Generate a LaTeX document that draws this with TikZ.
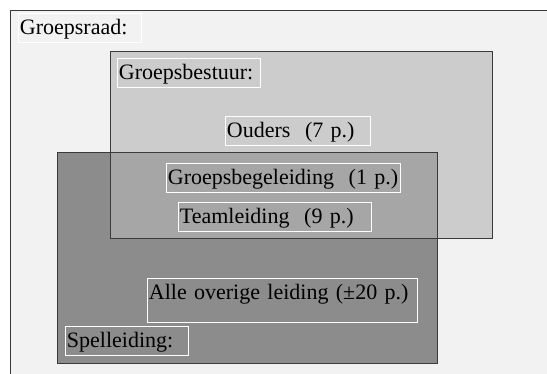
\documentclass[tikz,border=0pt]{standalone}
\usepackage{fontspec}
\setmainfont{Liberation Serif}
\usepackage{tikz}

\definecolor{raadgray}{HTML}{F2F2F2}
\definecolor{bestuurgray}{HTML}{CCCCCC}
\definecolor{spelgray}{HTML}{8C8C8C}
\definecolor{overlapgray}{HTML}{A6A6A6}
\definecolor{edgegray}{HTML}{3A3A3A}

\tikzset{
  groupbox/.style = {draw=edgegray, line width=1pt},
  labelbox/.style = {draw=white, line width=0.8pt, anchor=north west, align=left,
                     inner xsep=1.5pt, inner ysep=0pt,
                     text height=21.5pt, text depth=7.5pt,
                     font=\fontsize{22}{26}\selectfont}
}

\begin{document}
\begin{tikzpicture}[x=1pt, y=-1pt]
                \useasboundingbox (0,0) rectangle (547,374);
                \clip (0,0) rectangle (547,374);

                % Groepsraad (runs off the page to the right and bottom)
                \fill[raadgray] (10,11) rectangle (570,400);
                \draw[groupbox] (570,11) -- (10,11) -- (10,400);

                % Spelleiding and Groepsbestuur, with their overlap
                \fill[spelgray] (57,153) rectangle (437,364);
                \fill[bestuurgray] (110,52) rectangle (492,239);
                \fill[overlapgray] (110,153) rectangle (437,239);
                \draw[groupbox] (110,52) rectangle (492,239); % Groepsbestuur
                \draw[groupbox] (57,153) rectangle (437,364); % Spelleiding

                % Labels
                \node[labelbox, text width=120pt] (raad) at (18,13) {Groepsraad:};
                \node[labelbox, text width=140pt] (bestuur) at (117,58) {Groepsbestuur:};
                \node[labelbox, text width=142pt] (ouders) at (225,116) {Ouders~ (7 p.)};
                \node[labelbox, text width=231pt] (begeleiding) at (166,163) {Groepsbegeleiding~ (1 p.)};
                \node[labelbox, text width=190pt] (team) at (178,202) {Teamleiding~ (9 p.)};
                \node[labelbox, text width=267pt, text depth=23pt] (overige) at (147,278) {Alle overige leiding (±20 p.)};
                \node[labelbox, text width=120pt] (spel) at (65,326) {Spelleiding:};
\end{tikzpicture}
\end{document}
